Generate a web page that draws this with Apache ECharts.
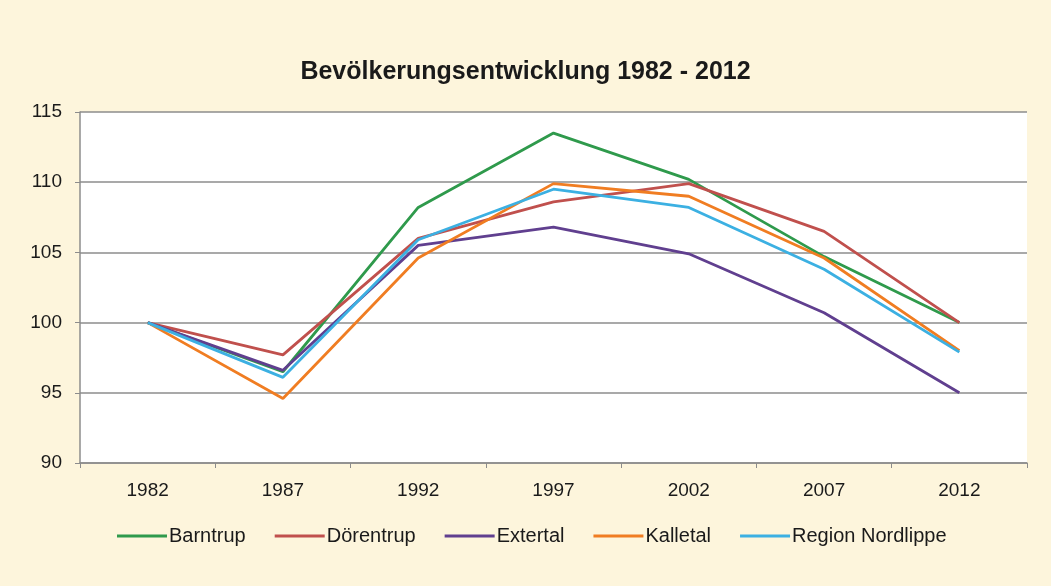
<!DOCTYPE html>
<html>
<head>
<meta charset="utf-8">
<script src="https://cdn.jsdelivr.net/npm/echarts@6/dist/echarts.min.js"></script>
<style>
html,body{margin:0;padding:0;background:#fdf5dc;}
#c{width:1051px;height:586px;}
</style>
</head>
<body>
<div id="c"></div>
<script>
const categories = ['1982','1987','1992','1997','2002','2007','2012'];
const barntrup   = [100, 96.5, 108.2, 113.5, 110.2, 104.7, 100.0];
const doerentrup = [100, 97.7, 106.0, 108.6, 109.9, 106.5, 100.0];
const extertal   = [100, 96.6, 105.5, 106.8, 104.9, 100.7, 95.0];
const kalletal   = [100, 94.6, 104.6, 109.9, 109.0, 104.6, 98.0];
const nordlippe  = [100, 96.1, 105.9, 109.5, 108.2, 103.8, 97.9];
const seriesNames = ['Barntrup','Dörentrup','Extertal','Kalletal','Region Nordlippe'];
const colors = ['#2f9a4c','#c0504d','#603f8f','#f07d22','#3cb0e2'];
const values = [barntrup, doerentrup, extertal, kalletal, nordlippe];

const chart = echarts.init(document.getElementById('c'));
chart.setOption({
  backgroundColor: '#fdf5dc',
  animation: false,
  title: {
    text: 'Bevölkerungsentwicklung 1982 - 2012',
    left: 'center', top: 55,
    textStyle: {fontFamily: 'Liberation Sans', fontWeight: 'bold', fontSize: 25, color: '#1a1a1a'}
  },
  legend: {
    top: 521, left: 112,
    itemWidth: 50, itemHeight: 3, itemGap: 29,
    icon: 'rect',
    textStyle: {fontFamily: 'Liberation Sans', fontSize: 20, color: '#1a1a1a', padding: [0,0,0,-3]},
    data: seriesNames
  },
  grid: {left: 80, right: 24, top: 112, bottom: 123, backgroundColor: '#ffffff', show: true, borderWidth: 0},
  xAxis: {
    type: 'category', data: categories, boundaryGap: true,
    axisLine: {lineStyle: {color: '#8c8c8c', width: 1.5}},
    axisTick: {show: true, length: 5, lineStyle: {color: '#8c8c8c'}},
    axisLabel: {fontFamily: 'Liberation Sans', fontSize: 19, color: '#1a1a1a', margin: 18}
  },
  yAxis: {
    type: 'value', min: 90, max: 115, interval: 5,
    axisLine: {show: true, lineStyle: {color: '#8c8c8c', width: 1.5}},
    axisTick: {show: true, length: 5, lineStyle: {color: '#8c8c8c'}},
    splitLine: {lineStyle: {color: '#8c8c8c', width: 1.5}},
    axisLabel: {fontFamily: 'Liberation Sans', fontSize: 19, color: '#1a1a1a', margin: 18}
  },
  series: seriesNames.map((n, i) => ({
    name: n, type: 'line', data: values[i],
    symbol: 'none', smooth: false,
    lineStyle: {color: colors[i], width: 2.8},
    itemStyle: {color: colors[i]}
  }))
});
</script>
</body>
</html>
